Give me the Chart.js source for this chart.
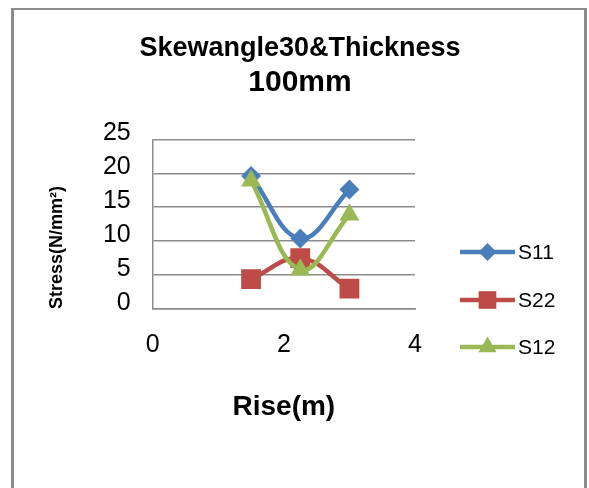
<!DOCTYPE html>
<html>
<head>
<meta charset="utf-8">
<script src="https://cdn.jsdelivr.net/npm/chart.js@4/dist/chart.umd.min.js"></script>
<style>
  html, body { margin: 0; padding: 0; background: #fff; }
  #wrap { position: relative; width: 589px; height: 488px; overflow: hidden; }
  #frame {
    position: absolute; left: 11px; top: 8px; width: 570px; height: 500px;
    border-left: 3px solid #8c8c8c; border-top: 2px solid #8c8c8c; border-right: 3px solid #8c8c8c;
    pointer-events: none;
  }
  canvas { position: absolute; left: 0; top: 0; }
</style>
</head>
<body>
<div id="wrap">
  <canvas id="c" width="589" height="488"></canvas>
  <div id="frame"></div>
</div>
<script>
// Rise (m) and the three stress components (N/mm²)
const rise = [1.5, 2.25, 3];
const s11 = [19.6, 10.4, 17.6];
const s22 = [4.4, 7.5, 3.0];
const s12 = [18.9, 5.8, 13.9];
const seriesNames = ['S11', 'S22', 'S12'];
const xTicks = [0, 2, 4];
const yTicks = [0, 5, 10, 15, 20, 25];

const FONT = "'Liberation Sans', Arial, sans-serif";
const GRID = '#8c8c8c';

const toPoints = vals => rise.map((x, i) => ({ x: x, y: vals[i] }));

const styles = [
  { color: '#4a7ebb', pointStyle: 'rectRot', radius: 10, legendRadius: 9 },
  { color: '#be4b48', pointStyle: 'rect', radius: 14, legendRadius: 12.5 },
  { color: '#98b954', pointStyle: 'triangle', radius: 11.5, legendRadius: 10.5 }
];

const datasets = [s11, s22, s12].map((vals, i) => ({
  label: seriesNames[i],
  data: toPoints(vals),
  borderColor: styles[i].color,
  backgroundColor: styles[i].color,
  borderWidth: 4.5,
  tension: 0.4,
  pointStyle: styles[i].pointStyle,
  pointRadius: styles[i].radius,
  pointBorderWidth: 0,
  pointBackgroundColor: styles[i].color,
  order: 3 - i
}));

// Legend: line segment with a marker in the middle, label to the right
const sideLegend = {
  id: 'sideLegend',
  afterDraw(chart) {
    const ctx = chart.ctx;
    const rows = [252, 300, 347];
    ctx.save();
    chart.data.datasets.forEach((ds, i) => {
      const y = rows[i];
      ctx.strokeStyle = ds.borderColor;
      ctx.lineWidth = 4.5;
      ctx.lineCap = 'butt';
      ctx.beginPath();
      ctx.moveTo(460, y);
      ctx.lineTo(515, y);
      ctx.stroke();
      ctx.fillStyle = ds.borderColor;
      ctx.strokeStyle = ds.borderColor;
      Chart.helpers.drawPoint(ctx, {
        pointStyle: ds.pointStyle, radius: styles[i].legendRadius, rotation: 0, borderWidth: 0
      }, 487.5, y);
      ctx.fillStyle = '#000';
      ctx.font = '21px ' + FONT;
      ctx.textAlign = 'left';
      ctx.textBaseline = 'middle';
      ctx.fillText(ds.label, 518, y + 1);
    });
    ctx.restore();
  }
};

new Chart(document.getElementById('c'), {
  type: 'line',
  data: { datasets: datasets },
  options: {
    responsive: false,
    animation: false,
    devicePixelRatio: 1,
    layout: { padding: { top: 32, left: 11, right: 0, bottom: 0 } },
    plugins: {
      legend: { display: false },
      tooltip: { enabled: false },
      title: {
        display: true,
        text: 'Skewangle30&Thickness',
        color: '#000',
        font: { family: FONT, size: 27, weight: 'bold', lineHeight: 1.2 },
        padding: { top: 0, bottom: 0 }
      },
      subtitle: {
        display: true,
        text: '100mm',
        color: '#000',
        font: { family: FONT, size: 30, weight: 'bold', lineHeight: 1.2 },
        padding: { top: 0, bottom: 39 }
      }
    },
    scales: {
      x: {
        type: 'linear',
        min: 0, max: 4,
        afterBuildTicks: s => { s.ticks = xTicks.map(v => ({ value: v })); },
        afterFit: s => { s.height = 179; },
        grid: { display: false, drawTicks: false },
        border: { display: true, color: GRID, width: 1.5 },
        ticks: { color: '#000', padding: 21, font: { family: FONT, size: 25 } },
        title: {
          display: true,
          text: 'Rise(m)',
          color: '#000',
          font: { family: FONT, size: 28, weight: 'bold', lineHeight: 1.2 },
          padding: { top: 0, bottom: 64 }
        }
      },
      y: {
        min: 0, max: 25,
        afterBuildTicks: s => { s.ticks = yTicks.map(v => ({ value: v })); },
        afterFit: s => { s.width = 141.7; },
        grid: { color: GRID, lineWidth: 1.5, drawTicks: false },
        border: { display: true, color: GRID, width: 1.5 },
        ticks: { color: '#000', padding: 22, labelOffset: -6, font: { family: FONT, size: 25 } },
        title: {
          display: true,
          text: 'Stress(N/mm²)',
          align: 'start',
          color: '#000',
          font: { family: FONT, size: 18, weight: 'bold', lineHeight: 1.2 },
          padding: { top: 35, bottom: 0 }
        }
      },
      // empty right-hand axis that reserves the space where the legend sits
      legendSpace: {
        type: 'linear',
        position: 'right',
        display: true,
        afterFit: s => { s.width = 174; },
        grid: { display: false, drawTicks: false },
        border: { display: false },
        ticks: { display: false }
      }
    }
  },
  plugins: [sideLegend]
});
</script>
</body>
</html>
